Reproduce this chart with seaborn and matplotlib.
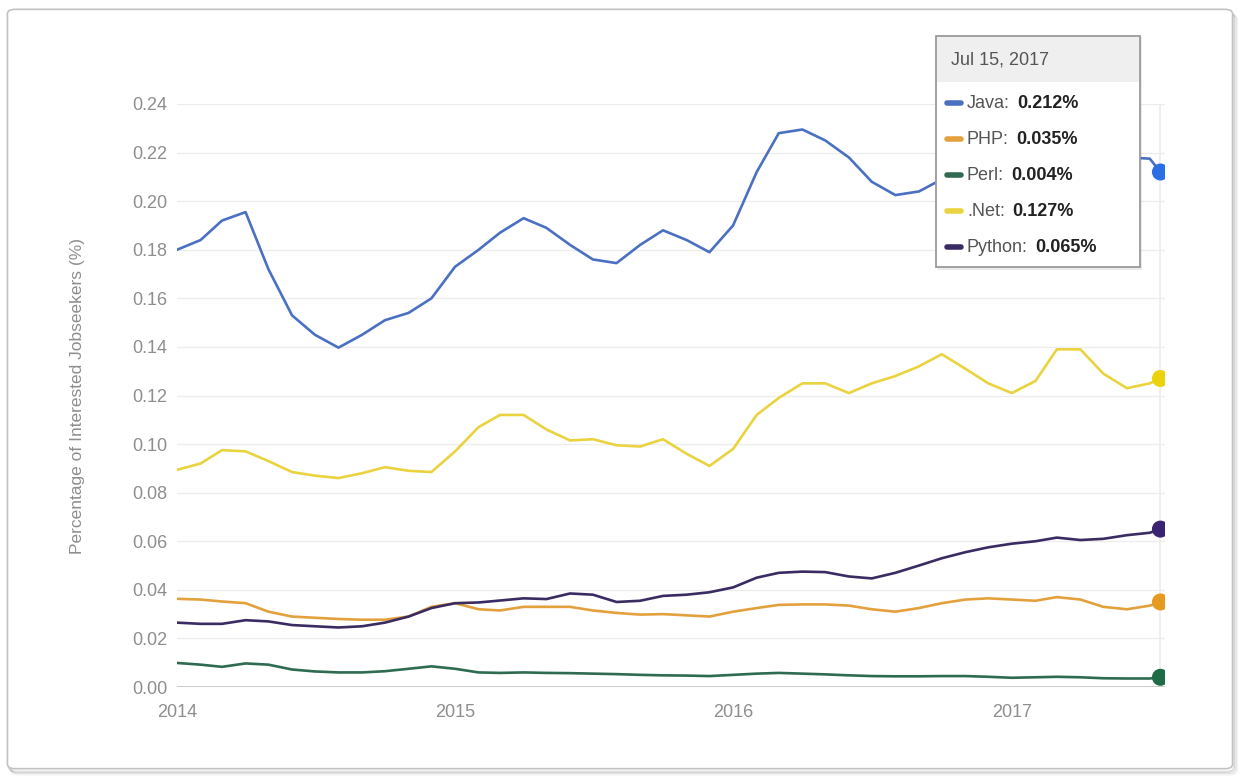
import pandas as pd
import numpy as np
import matplotlib
matplotlib.use("Agg")
import matplotlib.pyplot as plt
import matplotlib.dates as mdates
from matplotlib.patches import Rectangle, FancyBboxPatch
import seaborn as sns

sns.set_theme(style="white")
plt.rcParams['font.family'] = ['Liberation Sans', 'DejaVu Sans']

# monthly readings, Jan 2014 .. Jul 2017, plus the hovered point (Jul 15, 2017)
dates = list(pd.date_range("2014-01-01", "2017-07-01", freq="MS")) + [pd.Timestamp("2017-07-15")]

java = [0.180, 0.184, 0.192, 0.1955, 0.172, 0.153, 0.145, 0.1397, 0.145, 0.151, 0.154, 0.160,
        0.173, 0.180, 0.187, 0.193, 0.189, 0.182, 0.176, 0.1745, 0.182, 0.188, 0.184, 0.179,
        0.190, 0.212, 0.228, 0.2295, 0.225, 0.218, 0.208, 0.2025, 0.204, 0.209, 0.213, 0.216,
        0.219, 0.221, 0.220, 0.218, 0.219, 0.218, 0.2175, 0.212]
php = [0.0363, 0.036, 0.0352, 0.0345, 0.031, 0.029, 0.0285, 0.028, 0.0277, 0.0277, 0.029, 0.033,
       0.0345, 0.032, 0.0315, 0.033, 0.033, 0.033, 0.0315, 0.0305, 0.0298, 0.030, 0.0295, 0.029,
       0.031, 0.0325, 0.0338, 0.034, 0.034, 0.0335, 0.032, 0.031, 0.0325, 0.0345, 0.036, 0.0365,
       0.036, 0.0355, 0.037, 0.036, 0.033, 0.032, 0.0335, 0.035]
perl = [0.0099, 0.0092, 0.0083, 0.0097, 0.0092, 0.0072, 0.0064, 0.006, 0.006, 0.0065, 0.0075, 0.0085,
        0.0075, 0.006, 0.0058, 0.006, 0.0058, 0.0057, 0.0055, 0.0053, 0.005, 0.0048, 0.0047, 0.0045,
        0.005, 0.0055, 0.0058, 0.0055, 0.0052, 0.0048, 0.0045, 0.0044, 0.0044, 0.0045, 0.0045, 0.0042,
        0.0038, 0.004, 0.0042, 0.004, 0.0036, 0.0035, 0.0035, 0.004]
dotnet = [0.0894, 0.092, 0.0975, 0.097, 0.093, 0.0885, 0.087, 0.086, 0.088, 0.0905, 0.089, 0.0885,
          0.097, 0.107, 0.112, 0.112, 0.106, 0.1015, 0.102, 0.0995, 0.099, 0.102, 0.096, 0.091,
          0.098, 0.112, 0.119, 0.125, 0.125, 0.121, 0.125, 0.128, 0.132, 0.137, 0.131, 0.125,
          0.121, 0.126, 0.139, 0.139, 0.129, 0.123, 0.125, 0.127]
python = [0.0265, 0.026, 0.026, 0.0275, 0.027, 0.0255, 0.025, 0.0245, 0.025, 0.0265, 0.029, 0.0325,
          0.0345, 0.0348, 0.0356, 0.0365, 0.0362, 0.0385, 0.038, 0.035, 0.0355, 0.0375, 0.038, 0.039,
          0.041, 0.045, 0.047, 0.0475, 0.0473, 0.0455, 0.0447, 0.047, 0.050, 0.053, 0.0555, 0.0575,
          0.059, 0.060, 0.0615, 0.0605, 0.061, 0.0625, 0.0635, 0.065]

series_names = ["Java", "PHP", "Perl", ".Net", "Python"]
tooltip_values = ["0.212%", "0.035%", "0.004%", "0.127%", "0.065%"]
colors = {"Java": "#4a70c2", "PHP": "#e3a13d", "Perl": "#2f6b50", ".Net": "#ead33f", "Python": "#3a2c63"}
dot_colors = {"Java": "#2c6ee6", "PHP": "#e69a1e", "Perl": "#1f6b48", ".Net": "#ecd20a", "Python": "#3a2370"}

df = pd.DataFrame({"date": dates, "Java": java, "PHP": php, "Perl": perl, ".Net": dotnet, "Python": python})
long = df.melt(id_vars="date", var_name="lang", value_name="pct")
last = long[long["date"] == dates[-1]]

fig = plt.figure(figsize=(12.4, 7.78), dpi=100)

# card outline with soft shadow
for i, a in enumerate([0.05, 0.08, 0.12]):
    fig.patches.append(FancyBboxPatch((0.006 + 0.0012 * (3 - i), 0.010 - 0.0018 * (3 - i)), 0.988, 0.976,
                                      boxstyle="round,pad=0,rounding_size=0.006", transform=fig.transFigure,
                                      facecolor="none", edgecolor=(0, 0, 0, a), linewidth=1.5, zorder=0.1))
fig.patches.append(FancyBboxPatch((0.006, 0.012), 0.988, 0.976, boxstyle="round,pad=0,rounding_size=0.006",
                                  transform=fig.transFigure, facecolor="white", edgecolor="#c2c2c2",
                                  linewidth=1.2, zorder=0.2))

ax = fig.add_axes([177 / 1240, 1 - 687 / 778, (1165 - 177) / 1240, (687 - 104) / 778])
ax.set_zorder(1)
ax.set_facecolor("none")

sns.lineplot(data=long, x="date", y="pct", hue="lang", palette=colors, linewidth=1.9,
             legend=False, ax=ax, zorder=3)
sns.scatterplot(data=last, x="date", y="pct", hue="lang", palette=dot_colors, s=150,
                edgecolor="none", legend=False, ax=ax, zorder=4)

ax.set_ylim(0, 0.24)
ax.set_xlim(pd.Timestamp("2014-01-01"), pd.Timestamp("2017-07-21"))
ax.set_yticks(np.arange(0, 0.2401, 0.02))
ax.yaxis.set_major_formatter(matplotlib.ticker.FormatStrFormatter("%.2f"))
ax.xaxis.set_major_locator(mdates.YearLocator())
ax.xaxis.set_major_formatter(mdates.DateFormatter("%Y"))
ax.grid(axis="y", color="#ededed", linewidth=1.0)
ax.grid(axis="x", visible=False)
ax.axhline(0, color="#c8c8c8", linewidth=1.3, zorder=2)
ax.axvline(dates[-1], color="#ececec", linewidth=1.2, zorder=1)
for s in ax.spines.values():
    s.set_visible(False)
ax.tick_params(axis="both", length=0, colors="#8e8e8e", labelsize=13)
ax.tick_params(axis="y", pad=7)
ax.tick_params(axis="x", pad=12)
ax.set_xlabel("")
ax.set_ylabel("Percentage of Interested Jobseekers (%)", color="#8e8e8e", fontsize=12.5, labelpad=34)

# hover tooltip
W, H = 1240, 778
def fx(px):
    return px / W
def fy(py):
    return 1 - py / H

fig.patches.append(Rectangle((fx(938), fy(270)), fx(1142) - fx(938), fy(37) - fy(270),
                             transform=fig.transFigure, facecolor=(0, 0, 0, 0.08), edgecolor="none",
                             zorder=5))
fig.patches.append(Rectangle((fx(936), fy(267)), fx(1140) - fx(936), fy(36) - fy(267),
                             transform=fig.transFigure, facecolor="white", edgecolor="#9a9a9a",
                             linewidth=1.3, zorder=6))
fig.patches.append(Rectangle((fx(937), fy(82)), fx(1139) - fx(937), fy(37) - fy(82),
                             transform=fig.transFigure, facecolor="#efefef", edgecolor="none", zorder=6.5))
fig.text(fx(951), fy(60), "Jul 15, 2017", fontsize=13, color="#555555", va="center", zorder=7)

row_y = [103, 139, 175, 211, 247]
for name, val, py in zip(series_names, tooltip_values, row_y):
    fig.lines.append(plt.Line2D([fx(947), fx(961)], [fy(py), fy(py)], transform=fig.transFigure,
                                color=colors[name], linewidth=4, zorder=7))
    lab = fig.text(fx(967), fy(py), name + ":", fontsize=13, color="#555555", va="center", zorder=7)
    ann = ax.annotate(val, xy=(1, 0.5), xycoords=lab, xytext=(5, 0), textcoords="offset points",
                      fontsize=13, color="#222222", fontweight="bold", va="center", ha="left",
                      annotation_clip=False)
    ann.remove()
    fig.texts.append(ann)
    ann.set_figure(fig)
    ann.set_zorder(7)

fig.savefig("out.png", dpi=100)
